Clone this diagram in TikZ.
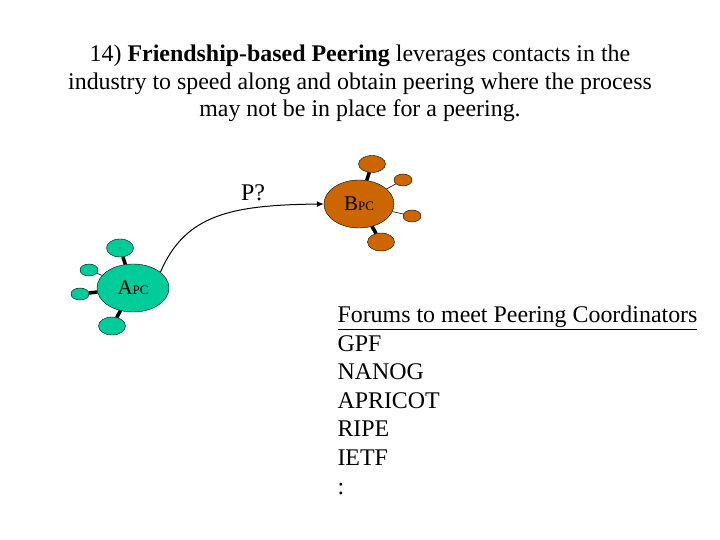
\documentclass[tikz,border=0pt]{standalone}
\usepackage{fontspec}
\setmainfont{Liberation Serif}
\usetikzlibrary{shapes.geometric,arrows.meta}

\definecolor{acol}{RGB}{0,204,153}
\definecolor{bcol}{RGB}{204,102,0}

\tikzset{
  bigas/.style={draw,ellipse,inner sep=0pt,minimum width=72bp,minimum height=48bp,
    font=\fontsize{21}{24}\selectfont},
  smallas/.style={draw,ellipse,inner sep=0pt},
  spoke/.style={line width=3.5bp},
  thinspoke/.style={line width=0.6bp},
}
\newcommand{\pcsub}{{\fontsize{13}{15}\selectfont PC}}

\begin{document}
\begin{tikzpicture}[x=1bp,y=-1bp]
\useasboundingbox (0,0) rectangle (720,540);

% base = baseline of the last line
\node[align=center,anchor=base,font=\fontsize{24}{28}\selectfont](title) at (360,117)
  {14) \textbf{Friendship-based Peering} leverages contacts in the\\
   industry to speed along and obtain peering where the process\\
   may not be in place for a peering.};

% AS A
\node[bigas,fill=acol](A) at (133,288) {A\pcsub};
\node[smallas,fill=acol,minimum width=27bp,minimum height=18bp](a1) at (120,248) {};
\node[smallas,fill=acol,minimum width=18bp,minimum height=12bp](a2) at (89,270) {};
\node[smallas,fill=acol,minimum width=18bp,minimum height=12bp](a3) at (80,294) {};
\node[smallas,fill=acol,minimum width=27bp,minimum height=18bp](a4) at (112,326) {};
\draw[spoke] (a1) -- (A);
\draw[thinspoke] (a2) -- (A);
\draw[spoke] (a3) -- (A);
\draw[spoke] (a4) -- (A);

% AS B
\node[bigas,fill=bcol,minimum width=70bp](B) at (359,204) {B\pcsub};
\node[smallas,fill=bcol,minimum width=27bp,minimum height=17bp](b1) at (372,164) {};
\node[smallas,fill=bcol,minimum width=18bp,minimum height=12bp](b2) at (403,180) {};
\node[smallas,fill=bcol,minimum width=18bp,minimum height=12bp](b3) at (412,216) {};
\node[smallas,fill=bcol,minimum width=27bp,minimum height=18bp](b4) at (381,242) {};
\draw[spoke] (b1) -- (B);
\draw[thinspoke] (b2) -- (B);
\draw[thinspoke] (b3) -- (B);
\draw[spoke] (b4) -- (B);

% peering request
\draw[line width=1bp,-{Latex[length=7bp,width=6bp]}] (A.30) .. controls (185,215) and (230,205) .. (B.west);
\node[font=\fontsize{24}{28}\selectfont](pq) at (253,193) {P?};

\node[anchor=base west,align=left,font=\fontsize{24}{28.7}\selectfont](forums) at (334,494)
  {\underline{Forums to meet Peering Coordinators}\\
   GPF\\ NANOG\\ APRICOT\\ RIPE\\ IETF\\ :};
\end{tikzpicture}
\end{document}
